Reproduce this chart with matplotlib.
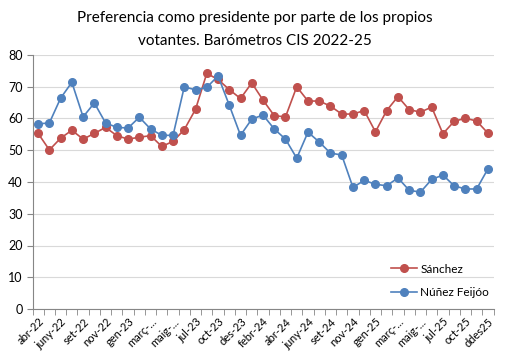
import numpy as np
import matplotlib
matplotlib.use("Agg")
from matplotlib import pyplot as plt

# CIS barometers, one entry per barometer (labels shown every other one)
tick_labels = ["abr-22", "juny-22", "set-22", "nov-22", "gen-23", "març-...",
               "maig-...", "jul-23", "oct-23", "des-23", "febr-24", "abr-24",
               "juny-24", "set-24", "nov-24", "gen-25", "març-...", "maig-...",
               "jul-25", "oct-25", "ddes25"]

sanchez = [55.3, 50.1, 53.8, 56.3, 53.5, 55.3, 57.2, 54.6, 53.5, 54.1,
           54.6, 51.2, 52.8, 56.5, 62.9, 74.2, 72.3, 69.1, 66.3, 71.2,
           65.8, 60.9, 60.5, 70.0, 65.5, 65.5, 63.9, 61.4, 61.4, 62.5,
           55.8, 62.5, 66.9, 62.8, 62.0, 63.6, 55.2, 59.1, 60.1, 59.2,
           55.4]

feijoo = [58.3, 58.6, 66.4, 71.4, 60.5, 64.9, 58.6, 57.2, 57.0, 60.4,
          56.7, 54.7, 54.7, 70.0, 69.0, 69.8, 73.4, 64.2, 54.7, 59.8,
          61.1, 56.7, 53.5, 47.5, 55.7, 52.6, 49.1, 48.5, 38.3, 40.5,
          39.3, 38.8, 41.3, 37.4, 36.8, 40.8, 42.2, 38.8, 37.8, 37.8,
          44.1]

plt.rcParams['font.family'] = ['Lato', 'DejaVu Sans']

fig = plt.figure(figsize=(5.09, 3.58), dpi=100)
ax = fig.add_axes([32.5 / 509, 1 - 309 / 358, 461 / 509, 254 / 358])

x = np.arange(len(sanchez))
ax.plot(x, sanchez, color="#C0504D", marker="o", markersize=5.5, lw=1.2,
        label="Sánchez")
ax.plot(x, feijoo, color="#4F81BD", marker="o", markersize=5.5, lw=1.2,
        label="Núñez Feijóo")

ax.set_xlim(-0.5, len(x) - 0.5)
ax.set_ylim(0, 80)
ax.set_yticks(range(0, 81, 10))
ax.tick_params(axis="y", labelsize=9, length=4, color="#868686", pad=3)
ax.yaxis.grid(True, color="#D9D9D9", lw=0.8)
ax.set_axisbelow(True)

ax.set_xticks(np.arange(-0.5, len(x), 1), minor=True)
ax.set_xticks(x[::2])
ax.set_xticklabels(tick_labels, rotation=45, ha="right", rotation_mode="anchor",
                   fontsize=8)
ax.tick_params(axis="x", which="major", length=0, pad=5)
ax.tick_params(axis="x", which="minor", length=4, color="#868686")

for side in ["top", "right"]:
    ax.spines[side].set_visible(False)
ax.spines["left"].set_color("#868686")
ax.spines["bottom"].set_color("#868686")

fig.suptitle("Preferencia como presidente por parte de los propios\n"
             "votantes. Barómetros CIS 2022-25", fontsize=11, y=0.968,
             linespacing=1.8)

fig.legend(loc="upper left", bbox_to_anchor=(380 / 509, 1 - 253 / 358),
           frameon=False, fontsize=8.5, labelspacing=1.05, handlelength=2.2,
           handletextpad=0.3)

fig.savefig("out.png", dpi=100)
